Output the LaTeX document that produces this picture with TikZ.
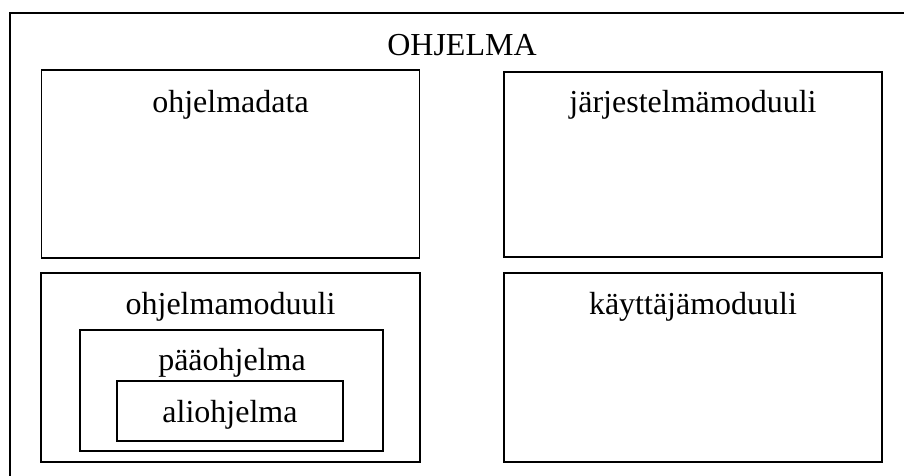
\documentclass[tikz,border=0pt]{standalone}
\usepackage{fontspec}
\setmainfont{Liberation Serif}
\begin{document}
\begin{tikzpicture}[x=1pt,y=-1pt,
  box/.style={draw=black,line width=1.8pt,inner sep=0pt,minimum width=#1},
  lbl/.style={anchor=base,inner sep=0pt,font=\fontsize{32}{38}\selectfont}]
\useasboundingbox (0,0) rectangle (904,475);
\fill[white] (0,0) rectangle (904,475);
% outer frame (cropped at right and bottom)
\coordinate (obl) at (10,476);
\coordinate (otl) at (10,13);
\coordinate (otr) at (905,13);
\draw[line width=1.8pt] (obl) -- (otl) -- (otr);
% boxes
\node[box=378pt,minimum height=188pt] (data) at (230.5,164) {};
\node[box=378pt,minimum height=185pt] (jarj) at (693,164.5) {};
\node[box=379pt,minimum height=189pt] (omod) at (230.5,367.5) {};
\node[box=378pt,minimum height=189pt] (kmod) at (693,367.5) {};
\node[box=303pt,minimum height=121pt] (paa) at (231.5,390.5) {};
\node[box=226pt,minimum height=60pt] (ali) at (230,411) {};
% labels
\node[lbl] (t0) at (462,55) {OHJELMA};
\node[lbl] (t1) at (230.5,112) {ohjelmadata};
\node[lbl] (t2) at (693,112) {järjestelmämoduuli};
\node[lbl] (t3) at (230.5,314) {ohjelmamoduuli};
\node[lbl] (t4) at (693,314) {käyttäjämoduuli};
\node[lbl] (t5) at (232,370) {pääohjelma};
\node[lbl] (t6) at (230,422) {aliohjelma};
\end{tikzpicture}
\end{document}
